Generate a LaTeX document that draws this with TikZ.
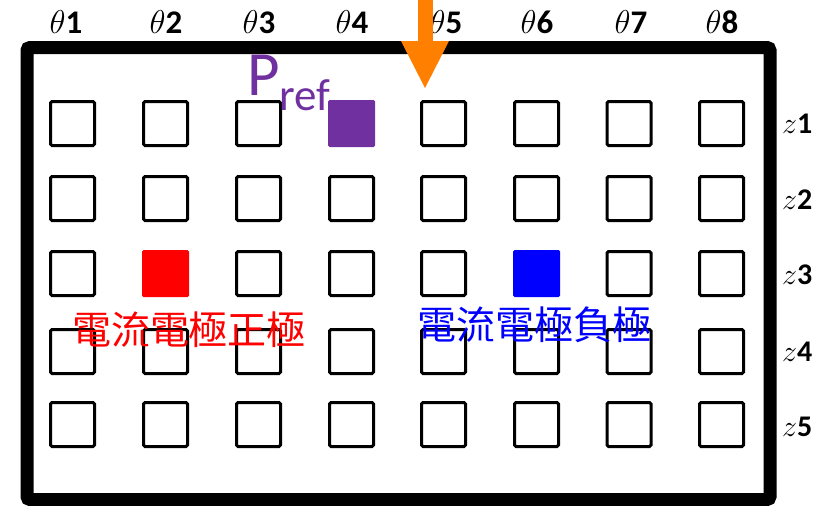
\RequirePackage{fix-cm}
\documentclass[tikz,border=0pt]{standalone}
\usepackage{fontspec}
\setmainfont{Carlito}
\newfontfamily\cjk{Noto Sans CJK TC}
\usepackage{tikz}

\definecolor{refpurple}{HTML}{7030A0}
\definecolor{arrorange}{HTML}{FF8000}

\begin{document}
\begin{tikzpicture}[x=1pt,y=1pt]
            \tikzstyle{every node}+=[inner sep=0pt]
            \tikzstyle{cell}=[draw=black, line width=3pt, rounded corners=1.5pt, minimum size=44pt]
            \tikzstyle{pole}=[rounded corners=1.5pt, minimum size=47pt]
            \tikzstyle{axlabel}=[font=\fontsize{33}{33}\selectfont]
            \tikzstyle{zlabel}=[font=\fontsize{30}{30}\selectfont]
            \tikzstyle{polelabel}=[font=\cjk\fontsize{39}{39}\selectfont]
            \useasboundingbox (0,0) rectangle (823,-506);
            % frame
            \draw [black, line width=13pt, rounded corners=3pt] (27,-47.5) rectangle (770,-499.5);
            % row z1
            \node [cell] (e1-1) at (72.5,-123.5) {};
            \node [cell] (e2-1) at (165.5,-123.5) {};
            \node [cell] (e3-1) at (258.5,-123.5) {};
            \node [pole, fill=refpurple] (e4-1) at (351.5,-123.5) {};
            \node [cell] (e5-1) at (443.5,-123.5) {};
            \node [cell] (e6-1) at (536.5,-123.5) {};
            \node [cell] (e7-1) at (629,-123.5) {};
            \node [cell] (e8-1) at (721.5,-123.5) {};
            % row z2
            \node [cell] (e1-2) at (72.5,-198.5) {};
            \node [cell] (e2-2) at (165.5,-198.5) {};
            \node [cell] (e3-2) at (258.5,-198.5) {};
            \node [cell] (e4-2) at (351.5,-198.5) {};
            \node [cell] (e5-2) at (443.5,-198.5) {};
            \node [cell] (e6-2) at (536.5,-198.5) {};
            \node [cell] (e7-2) at (629,-198.5) {};
            \node [cell] (e8-2) at (721.5,-198.5) {};
            % row z3
            \node [cell] (e1-3) at (72.5,-273.5) {};
            \node [pole, fill=red] (e2-3) at (165.5,-273.5) {};
            \node [cell] (e3-3) at (258.5,-273.5) {};
            \node [cell] (e4-3) at (351.5,-273.5) {};
            \node [cell] (e5-3) at (443.5,-273.5) {};
            \node [pole, fill=blue] (e6-3) at (536.5,-273.5) {};
            \node [cell] (e7-3) at (629,-273.5) {};
            \node [cell] (e8-3) at (721.5,-273.5) {};
            % row z4
            \node [cell] (e1-4) at (72.5,-351.5) {};
            \node [cell] (e2-4) at (165.5,-351.5) {};
            \node [cell] (e3-4) at (258.5,-351.5) {};
            \node [cell] (e4-4) at (351.5,-351.5) {};
            \node [cell] (e5-4) at (443.5,-351.5) {};
            \node [cell] (e6-4) at (536.5,-351.5) {};
            \node [cell] (e7-4) at (629,-351.5) {};
            \node [cell] (e8-4) at (721.5,-351.5) {};
            % row z5
            \node [cell] (e1-5) at (72.5,-424.5) {};
            \node [cell] (e2-5) at (165.5,-424.5) {};
            \node [cell] (e3-5) at (258.5,-424.5) {};
            \node [cell] (e4-5) at (351.5,-424.5) {};
            \node [cell] (e5-5) at (443.5,-424.5) {};
            \node [cell] (e6-5) at (536.5,-424.5) {};
            \node [cell] (e7-5) at (629,-424.5) {};
            \node [cell] (e8-5) at (721.5,-424.5) {};
            % theta labels
            \node [axlabel, anchor=base] (t1) at (66,-33) {$\theta$\textbf{1}};
            \node [axlabel, anchor=base] (t2) at (166,-33) {$\theta$\textbf{2}};
            \node [axlabel, anchor=base] (t3) at (259,-33) {$\theta$\textbf{3}};
            \node [axlabel, anchor=base] (t4) at (352,-33) {$\theta$\textbf{4}};
            \node [axlabel, anchor=base] (t5) at (446,-33) {$\theta$\textbf{5}};
            \node [axlabel, anchor=base] (t6) at (537,-33) {$\theta$\textbf{6}};
            \node [axlabel, anchor=base] (t7) at (631,-33) {$\theta$\textbf{7}};
            \node [axlabel, anchor=base] (t8) at (722,-33) {$\theta$\textbf{8}};
            % z labels
            \node [zlabel, anchor=base west] (z1) at (782,-133) {$z$\textbf{1}};
            \node [zlabel, anchor=base west] (z2) at (782,-209) {$z$\textbf{2}};
            \node [zlabel, anchor=base west] (z3) at (782,-284) {$z$\textbf{3}};
            \node [zlabel, anchor=base west] (z4) at (782,-361) {$z$\textbf{4}};
            \node [zlabel, anchor=base west] (z5) at (782,-436) {$z$\textbf{5}};
            % reference point
            \node [anchor=base west, text=refpurple] (pref) at (247,-95)
                {\fontsize{63}{63}\selectfont P\raisebox{-15pt}{\fontsize{45}{45}\selectfont ref}};
            % pole labels
            \node [polelabel, text=red] (pos) at (189,-329.5) {電流電極正極};
            \node [polelabel, text=blue] (neg) at (534,-324.5) {電流電極負極};
            % injection arrow
            \coordinate (arrtop) at (425.5,0);
            \coordinate (arrtip) at (425,-88);
            \fill [arrorange] ([xshift=-7.5pt]arrtop) rectangle ([xshift=7.5pt,yshift=47pt]arrtip);
            \fill [arrorange] (arrtip) -- ([xshift=-24pt,yshift=47pt]arrtip) -- ([xshift=24pt,yshift=47pt]arrtip) -- cycle;
        \end{tikzpicture}
\end{document}
